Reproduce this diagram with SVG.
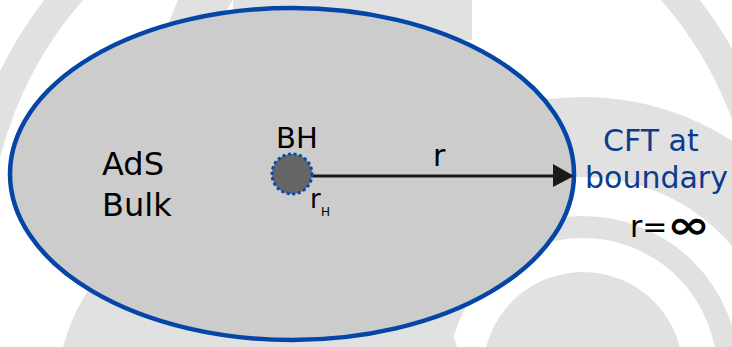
<svg xmlns="http://www.w3.org/2000/svg" width="732" height="347" viewBox="0 0 732 347">
<style>
.wm{fill:none;stroke:#e1e1e1}
.wmf{fill:#e1e1e1}
.t{font-family:"DejaVu Sans",sans-serif;fill:#000}
.b{font-family:"DejaVu Sans",sans-serif;fill:#0b3b8c}
</style>
<rect width="732" height="347" fill="#ffffff"/>
<g id="watermark">
<circle class="wm" cx="372" cy="253" r="399" stroke-width="30"/>
<polygon class="wmf" points="178,0 233,0 218,24 168,24"/>
<rect class="wmf" x="233" y="0" width="239" height="40"/>
<circle class="wm" cx="583" cy="372" r="235" stroke-width="80"/>
<circle class="wm" cx="583" cy="372" r="145" stroke-width="22"/>
<circle class="wmf" cx="583" cy="372" r="100"/>
<circle class="wmf" cx="260" cy="400" r="204"/>
</g>
<g id="bulk">
<ellipse cx="292" cy="174" rx="282" ry="166" fill="#cccccc" stroke="#0545a8" stroke-width="4.5"/>
<text class="t" x="102" y="175" font-size="32">AdS</text>
<text class="t" x="102" y="216" font-size="32">Bulk</text>
</g>
<g id="connectors">
<line x1="312" y1="176" x2="556" y2="176" stroke="#1a1a1a" stroke-width="3"/>
<polygon points="553,164 574,176 553,187" fill="#1a1a1a"/>
<text class="t" x="433" y="166" font-size="30">r</text>
</g>
<g id="bh">
<circle cx="292" cy="174" r="20" fill="#666666" stroke="#0a4ab0" stroke-width="3" stroke-dasharray="3 2.6"/>
<text class="t" x="276" y="148" font-size="29">BH</text>
<text class="t" x="310" y="208" font-size="26">r</text>
<text class="t" x="321" y="216" font-size="12">H</text>
</g>
<g id="boundary">
<text class="b" x="603" y="151" font-size="30">CFT at</text>
<text class="b" x="585" y="188" font-size="30">boundary</text>
<text class="t" x="630" y="237" font-size="30">r=</text>
<text class="t" x="667" y="238" font-size="38" font-weight="bold" textLength="43" lengthAdjust="spacingAndGlyphs">∞</text>
</g>
</svg>
